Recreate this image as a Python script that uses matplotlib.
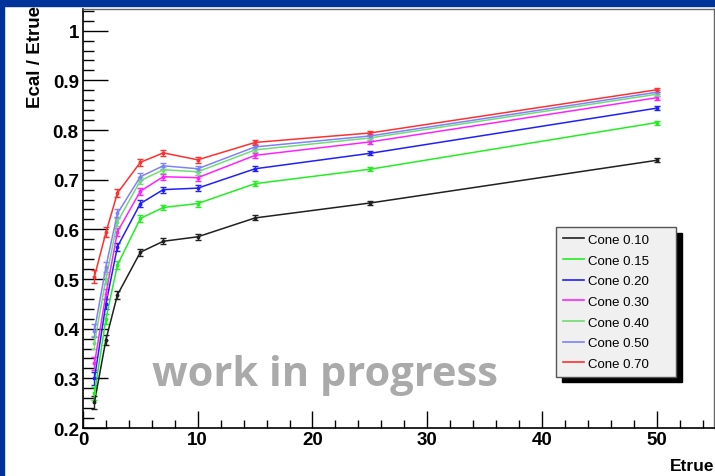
import matplotlib
matplotlib.use("Agg")
import matplotlib.pyplot as plt
from matplotlib.patches import Rectangle
from matplotlib.lines import Line2D
from matplotlib.ticker import MultipleLocator

etrue = [1, 2, 3, 5, 7, 10, 15, 25, 50]
labels = ["Cone 0.10", "Cone 0.15", "Cone 0.20", "Cone 0.30", "Cone 0.40", "Cone 0.50", "Cone 0.70"]
cone010 = [0.252, 0.378, 0.468, 0.554, 0.576, 0.585, 0.623, 0.653, 0.739]
cone015 = [0.270, 0.420, 0.528, 0.622, 0.644, 0.652, 0.692, 0.721, 0.815]
cone020 = [0.300, 0.450, 0.565, 0.652, 0.680, 0.683, 0.722, 0.753, 0.844]
cone030 = [0.330, 0.470, 0.595, 0.677, 0.706, 0.704, 0.749, 0.776, 0.865]
cone040 = [0.372, 0.500, 0.615, 0.698, 0.720, 0.716, 0.760, 0.784, 0.872]
cone050 = [0.396, 0.525, 0.632, 0.706, 0.728, 0.722, 0.766, 0.788, 0.876]
cone070 = [0.505, 0.594, 0.673, 0.735, 0.754, 0.740, 0.775, 0.794, 0.881]
err = [0.013, 0.010, 0.008, 0.007, 0.006, 0.006, 0.005, 0.004, 0.004]
series = [cone010, cone015, cone020, cone030, cone040, cone050, cone070]
colors = ["#202020", "#22ee22", "#2020ff", "#ff22ff", "#70dd70", "#8080ff", "#ff3030"]

fig = plt.figure(figsize=(7.15, 4.77), dpi=100)
fig.patch.set_facecolor("white")
blue = "#003399"
fig.add_artist(Rectangle((0, 0), 4 / 715, 1, transform=fig.transFigure, color=blue, zorder=0))
fig.add_artist(Rectangle((0, 1 - 7 / 477), 1, 7 / 477, transform=fig.transFigure, color=blue, zorder=0))

ax = fig.add_axes([83 / 715, 1 - 429 / 477, (714 - 83) / 715, (429 - 10) / 477])
ax.set_xlim(0, 55)
ax.set_ylim(0.2, 1.0437)

for ys, c in zip(series, colors):
    ax.errorbar(etrue, ys, yerr=err, color=c, lw=1.1, elinewidth=1.0, capsize=2.5,
                capthick=1.0, marker="o", ms=1.8)

bold = dict(fontfamily="Liberation Sans", fontweight="bold")
ax.xaxis.set_major_locator(MultipleLocator(10))
ax.xaxis.set_minor_locator(MultipleLocator(2))
ax.yaxis.set_minor_locator(MultipleLocator(0.02))
ax.tick_params(axis="y", which="major", direction="in", length=18, width=1.0, pad=3, labelsize=13.5)
ax.tick_params(axis="y", which="minor", direction="in", length=8, width=1.0)
ax.tick_params(axis="x", which="major", direction="in", length=12, width=1.0, pad=2, labelsize=13.5)
ax.tick_params(axis="x", which="minor", direction="in", length=6, width=1.0)
ax.tick_params(top=False, right=False)
ax.set_yticks([0.2, 0.3, 0.4, 0.5, 0.6, 0.7, 0.8, 0.9, 1.0])
ax.set_yticklabels(["0.2", "0.3", "0.4", "0.5", "0.6", "0.7", "0.8", "0.9", "1"])
for t in ax.get_xticklabels() + ax.get_yticklabels():
    t.set_fontfamily("Liberation Sans")
    t.set_fontweight("bold")
for s in ["left", "bottom"]:
    ax.spines[s].set_color("black")
    ax.spines[s].set_linewidth(1.2)
for s in ["top", "right"]:
    ax.spines[s].set_color("#666666")
    ax.spines[s].set_linewidth(1.0)

fig.text(35 / 715, 1 - 6 / 477, "Ecal / Etrue", rotation=90, ha="center", va="top",
         fontsize=13.5, **bold)
fig.text(714 / 715, 1 - 467 / 477, "Etrue", ha="right", va="center", fontsize=12.5, **bold)

ax.text(0.11, 0.128, "work in progress", transform=ax.transAxes, color="#aaaaaa",
        fontsize=30, fontweight="bold", fontfamily="Open Sans", ha="left", va="center")

handles = [Line2D([], [], color=c, lw=1.2) for c in colors]
x0 = (556 - 83) / 631
w = (676 - 556) / 631
y_top = (429 - 228) / 419
h = (375 - 228) / 419
leg = ax.legend(handles, labels, loc="upper left", mode="expand",
                bbox_to_anchor=(x0, y_top - h, w, h),
                fontsize=9.5, frameon=True, fancybox=False,
                shadow={"color": "black", "alpha": 1, "ox": 4, "oy": -4},
                borderpad=0.5, labelspacing=0.64, handlelength=1.6, handletextpad=0.35,
                borderaxespad=0)
leg.get_frame().set_facecolor("#f0f0f0")
leg.get_frame().set_edgecolor("#555555")
leg.get_frame().set_alpha(1)
for t in leg.get_texts():
    t.set_fontfamily("Liberation Sans")

fig.savefig("out.png", dpi=100)
